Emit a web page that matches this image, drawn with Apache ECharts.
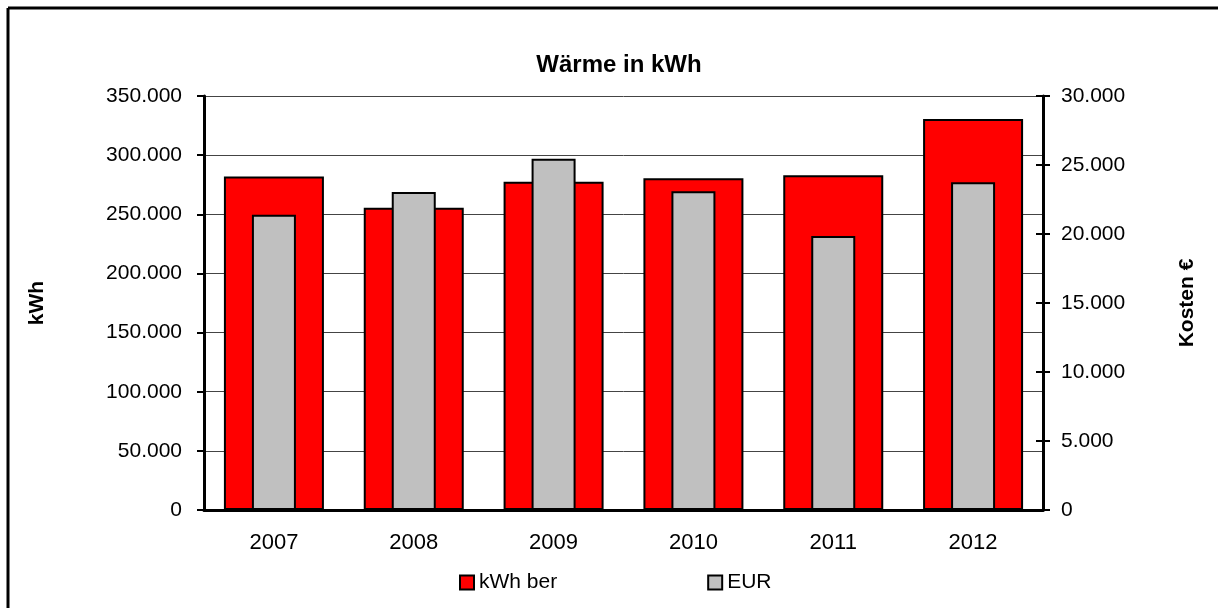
<!DOCTYPE html>
<html>
<head>
<meta charset="utf-8">
<title>Wärme in kWh</title>
<script src="https://cdn.jsdelivr.net/npm/echarts@6/dist/echarts.min.js"></script>
<style>
  html, body { margin: 0; padding: 0; background: #fff; }
  #chart { width: 1218px; height: 608px; }
</style>
</head>
<body>
<div id="chart"></div>
<script>
  // Daten
  var years = ['2007', '2008', '2009', '2010', '2011', '2012'];
  var kwhBer = [282000, 255600, 277500, 280400, 283000, 330500];
  var eur = [21400, 23050, 25450, 23100, 19850, 23750];

  var fontName = '"Liberation Sans", Arial, sans-serif';

  // 350000 -> "350.000"
  function fmt(v) {
    return String(v).replace(/\B(?=(\d{3})+(?!\d))/g, '.');
  }

  var chart = echarts.init(document.getElementById('chart'));
  var option = {
    animation: false,
    textStyle: { fontFamily: fontName, color: '#000' },
    title: {
      text: 'Wärme in kWh',
      left: 614,
      textAlign: 'center',
      top: 48,
      textStyle: { fontSize: 24, fontWeight: 'bold', color: '#000', fontFamily: fontName }
    },
    legend: {
      left: 454,
      top: 567,
      icon: 'rect',
      itemWidth: 14,
      itemHeight: 14,
      itemGap: 150,
      textStyle: { fontSize: 21, color: '#000', fontFamily: fontName },
      data: [
        { name: 'kWh ber', itemStyle: { color: '#ff0000', borderColor: '#000', borderWidth: 2 } },
        { name: 'EUR', itemStyle: { color: '#c0c0c0', borderColor: '#000', borderWidth: 2 } }
      ]
    },
    grid: { left: 204, right: 175, top: 96, bottom: 98 },
    xAxis: [
      {
        type: 'category',
        data: years,
        axisLine: { lineStyle: { color: '#000', width: 3 } },
        axisTick: { length: 8, lineStyle: { color: '#000', width: 2 } },
        axisLabel: { fontSize: 22, color: '#000', margin: 22 }
      },
      {
        // nur damit die grauen Balken mittig sitzen
        type: 'category',
        data: years,
        show: false
      }
    ],
    yAxis: [
      {
        type: 'value',
        min: 0, max: 350000, interval: 50000,
        name: 'kWh',
        nameLocation: 'middle',
        nameRotate: 90,
        nameGap: 156,
        nameTextStyle: { fontSize: 21, fontWeight: 'bold', color: '#000' },
        axisLine: { show: true, lineStyle: { color: '#000', width: 3 } },
        axisTick: { show: true, length: 7, lineStyle: { color: '#000', width: 2 } },
        axisLabel: { fontSize: 21, color: '#000', margin: 22, formatter: fmt },
        splitLine: { lineStyle: { color: '#444', width: 1 } }
      },
      {
        type: 'value',
        position: 'right',
        min: 0, max: 30000, interval: 5000,
        name: 'Kosten €',
        nameLocation: 'middle',
        nameRotate: 90,
        nameGap: 134,
        nameTextStyle: { fontSize: 21, fontWeight: 'bold', color: '#000' },
        axisLine: { show: true, lineStyle: { color: '#000', width: 3 } },
        axisTick: { show: true, length: 7, lineStyle: { color: '#000', width: 2 } },
        axisLabel: { fontSize: 21, color: '#000', margin: 18, formatter: fmt },
        splitLine: { show: false }
      },
      {
        // Ticks nach innen, damit sie die rechte Achse kreuzen
        type: 'value',
        position: 'right',
        min: 0, max: 30000, interval: 5000,
        axisLine: { show: false },
        axisTick: { show: true, inside: true, length: 7, lineStyle: { color: '#000', width: 2 } },
        axisLabel: { show: false },
        splitLine: { show: false }
      }
    ],
    series: [
      {
        name: 'kWh ber',
        type: 'bar',
        xAxisIndex: 0,
        yAxisIndex: 0,
        barWidth: 100,
        itemStyle: { color: '#ff0000', borderColor: '#000', borderWidth: 2 },
        data: kwhBer,
        z: 2
      },
      {
        name: 'EUR',
        type: 'bar',
        xAxisIndex: 1,
        yAxisIndex: 1,
        barWidth: 44,
        itemStyle: { color: '#c0c0c0', borderColor: '#000', borderWidth: 2 },
        data: eur,
        z: 3
      }
    ],
    graphic: [
      { type: 'line', shape: { x1: 8, y1: 8, x2: 1218, y2: 8 }, style: { stroke: '#000', lineWidth: 3 } },
      { type: 'line', shape: { x1: 8, y1: 8, x2: 8, y2: 608 }, style: { stroke: '#000', lineWidth: 3 } }
    ]
  };
  chart.setOption(option);
</script>
</body>
</html>
